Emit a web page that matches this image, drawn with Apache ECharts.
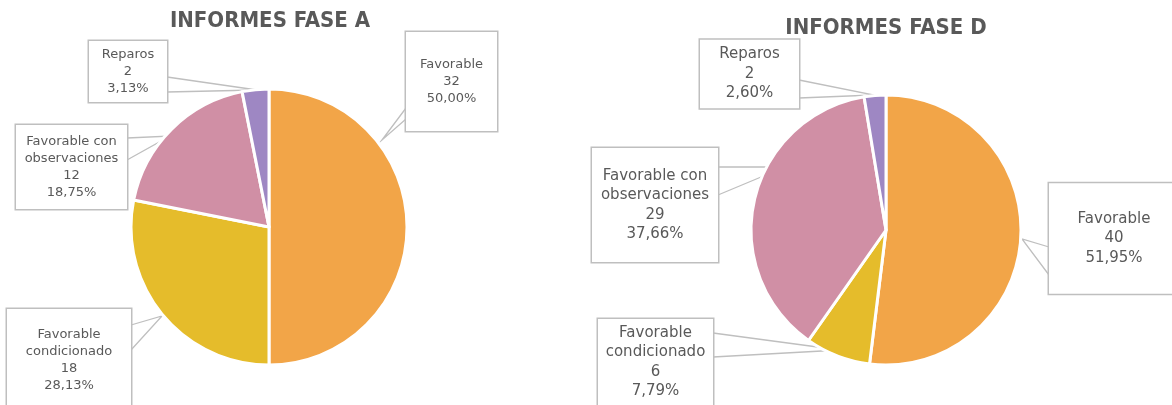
<!DOCTYPE html>
<html>
<head>
<meta charset="utf-8">
<script src="https://cdn.jsdelivr.net/npm/echarts@6/dist/echarts.min.js"></script>
<style>html,body{margin:0;background:#fff}#chart{width:1172px;height:405px}</style>
</head>
<body>
<div id="chart"></div>
<script>
const categories = ['Favorable', 'Favorable condicionado', 'Favorable con observaciones', 'Reparos'];
const labelNames = ['Favorable', 'Favorable\ncondicionado', 'Favorable con\nobservaciones', 'Reparos'];
const valuesA = [32, 18, 12, 2];
const valuesD = [40, 6, 29, 2];
const titleA = 'INFORMES FASE A';
const titleD = 'INFORMES FASE D';
const colors = ['#F2A548', '#E5BC2B', '#D08FA5', '#9E87C3'];

// callout boxes, one per category: [centre x, centre y, width, vertical padding]
const boxesA = [[451.5, 81.5, 91, 24], [69, 360.5, 124, 17.5], [71.5, 167, 111, 8], [128, 71.5, 78, 5]];
const boxesD = [[1114, 238.5, 130, 26], [655.5, 362, 115, 4], [655, 205, 126, 18], [749.5, 74, 99, 5]];
// callout wedges: [base x1, y1, tip x, tip y, base x2, y2]
const wedgesA = [[406, 108, 382, 140, 406, 119], [131, 325, 162, 316, 131, 350],
  [127, 138, 170, 136, 127, 160], [167, 77, 257, 90, 167, 92]];
const wedgesD = [[1049, 247, 1022, 239, 1049, 275], [713, 333, 840, 350, 713, 357],
  [718, 167, 785, 167, 718, 195], [799, 80, 874, 95, 799, 98]];

const chart = echarts.init(document.getElementById('chart'));
const GREY = '#595959';
const pct = (v, total) => (v / total * 100).toFixed(2).replace('.', ',') + '%';

function pieSeries(values, center, radius, boxes, wedges, fontSize, lineHeight) {
  const total = values.reduce((a, b) => a + b, 0);
  return {
    type: 'pie', center, radius, startAngle: 90, clockwise: true,
    avoidLabelOverlap: false, silent: true,
    itemStyle: { borderColor: '#fff', borderWidth: 3 },
    label: {
      color: GREY, fontSize, lineHeight, fontFamily: 'DejaVu Sans',
      backgroundColor: '#fff', borderColor: '#BFBFBF', borderWidth: 1.5,
      align: 'center',
      formatter: (p) => labelNames[p.dataIndex] + '\n' + p.value + '\n' + pct(p.value, total),
    },
    labelLine: { show: true, lineStyle: { color: '#BFBFBF', width: 1.3 } },
    labelLayout: (p) => {
      const b = boxes[p.dataIndex], w = wedges[p.dataIndex];
      return { x: b[0], y: b[1], align: 'center', verticalAlign: 'middle',
        labelLinePoints: [[w[0], w[1]], [w[2], w[3]], [w[4], w[5]]] };
    },
    data: values.map((v, i) => ({
      name: categories[i], value: v,
      label: { width: boxes[i][2], padding: [boxes[i][3], 0, boxes[i][3], 0] },
    })),
  };
}

const titleStyle = { fontSize: 22, fontWeight: 'bold', color: GREY,
  fontFamily: "'DejaVu Sans Condensed', 'DejaVu Sans'" };

chart.setOption({
  animation: false,
  color: colors,
  title: [
    { text: titleA, left: 270, top: 21, textAlign: 'center', textVerticalAlign: 'middle', padding: 0, textStyle: titleStyle },
    { text: titleD, left: 886, top: 28, textAlign: 'center', textVerticalAlign: 'middle', padding: 0, textStyle: titleStyle },
  ],
  series: [
    pieSeries(valuesA, [269, 227], 138, boxesA, wedgesA, 13, 17),
    pieSeries(valuesD, [886, 230], 135, boxesD, wedgesD, 15, 19.5),
  ],
});
</script>
</body>
</html>
